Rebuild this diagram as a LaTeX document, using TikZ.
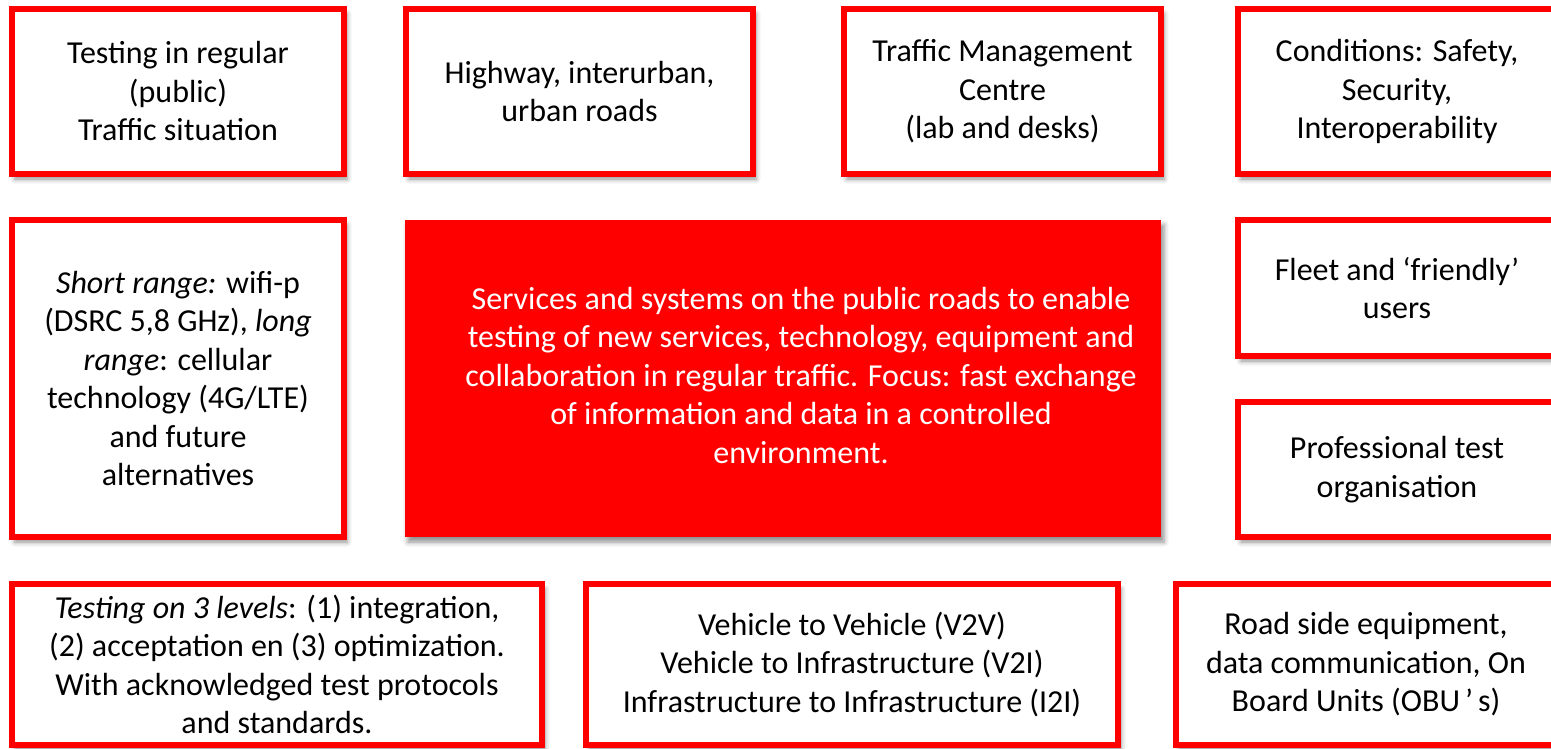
\documentclass[tikz,border=0pt]{standalone}
\usepackage{fontspec}
\setmainfont{Carlito}
\usepackage{xcolor}
\usetikzlibrary{shadows.blur}
\definecolor{labred}{RGB}{255,0,0}
\tikzset{
	tile/.style={
			draw=labred, line width=6pt, fill=white, align=center, inner sep=0pt,
			font=\fontsize{32}{38.5}\selectfont,
			blur shadow={shadow xshift=3pt, shadow yshift=-5pt, shadow blur radius=5pt, shadow opacity=45}
		},
	core/.style={
			fill=labred, text=white, inner sep=0pt,
			font=\fontsize{32}{38.5}\selectfont,
			blur shadow={shadow xshift=3pt, shadow yshift=-5pt, shadow blur radius=5pt, shadow opacity=45}
		}
}

\begin{document}
\begin{tikzpicture}[x=1pt, y=-1pt]
	\useasboundingbox (0,0) rectangle (1551,749);
	\clip (0,0) rectangle (1551,749);

	\node[tile, minimum width=332pt, minimum height=165pt] (regular) at (178,91.5) {Testing in regular\\(public)\\Traffic situation};
	\node[tile, minimum width=347pt, minimum height=165pt] (roads) at (579.5,91.5) {Highway, interurban,\\urban roads};
	\node[tile, minimum width=317pt, minimum height=165pt] (tmc) at (1002.5,91.5) {Traffic Management\\Centre\\(lab and desks)};
	\node[tile, minimum width=318pt, minimum height=165pt] (cond) at (1397,91.5) {Conditions: Safety,\\Security,\\Interoperability};

	\node[tile, minimum width=332pt, minimum height=317pt] (range) at (178,378.5) {\textit{Short range:} wifi-p\\(DSRC 5,8 GHz), \textit{long}\\\textit{range}: cellular\\technology (4G/LTE)\\and future\\alternatives};
	\node[core, minimum width=756pt, minimum height=317pt] (focus) at (783,378.5) {\begin{tabular}{@{\hspace{36pt}}c@{}}Services and systems on the public roads to enable\\testing of new services, technology, equipment and\\collaboration in regular traffic. Focus: fast exchange\\of information and data in a controlled\\environment.\end{tabular}};
	\node[tile, minimum width=318pt, minimum height=136pt] (fleet) at (1397,288) {Fleet and ‘friendly’\\users};
	\node[tile, minimum width=318pt, minimum height=135pt] (org) at (1397,469.5) {Professional test\\organisation};

	\node[tile, minimum width=530pt, minimum height=161pt] (levels) at (277,664.5) {\textit{Testing on 3 levels}: (1) integration,\\(2) acceptation en (3) optimization.\\With acknowledged test protocols\\and standards.};
	\node[tile, minimum width=532pt, minimum height=161pt] (v2x) at (852,664.5) {Vehicle to Vehicle (V2V)\\Vehicle to Infrastructure (V2I)\\Infrastructure to Infrastructure (I2I)};
	\node[tile, minimum width=380pt, minimum height=161pt] (rse) at (1366,664.5) {Road side equipment,\\data communication, On\\Board Units (OBU\hspace{5pt}’\hspace{5pt}s)};
\end{tikzpicture}
\end{document}
